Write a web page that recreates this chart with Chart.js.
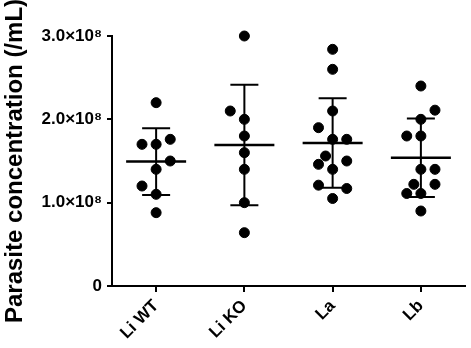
<!DOCTYPE html>
<html>
<head>
<meta charset="utf-8">
<script src="https://cdn.jsdelivr.net/npm/chart.js@4"></script>
<style>
  html, body { margin: 0; padding: 0; background: #fff; }
  #wrap { width: 471px; height: 348px; }
</style>
</head>
<body>
<div id="wrap"><canvas id="chart" width="471" height="348"></canvas></div>
<script>
// groups on the x axis
const groups = ['Li WT', 'Li KO', 'La', 'Lb'];

// parasite concentration per sample, in units of 1e8 /mL
const liWT = [2.20, 1.70, 1.70, 1.76, 1.50, 1.40, 1.20, 1.10, 0.88];
const liKO = [3.00, 2.10, 2.00, 1.80, 1.60, 1.40, 1.00, 0.64];
const la = [2.84, 2.60, 2.10, 1.90, 1.76, 1.76, 1.56, 1.46, 1.50, 1.40, 1.21, 1.17, 1.05];
const lb = [2.40, 2.11, 2.00, 1.80, 1.80, 1.40, 1.40, 1.22, 1.22, 1.11, 1.11, 0.90];

// column of each dot inside its group (scatter spread)
const liWTcol = [0, -1, 0, 1, 1, 0, -1, 0, 0];
const liKOcol = [0, -1, 0, 0, 0, 0, 0, 0];
const laCol = [0, 0, 0, -1, 0, 1, -0.5, -1, 1, 0, -1, 1, 0];
const lbCol = [0, 1, 0, -1, 0, 0, 1, -0.5, 1, -1, 0, 0];

const yTicks = [0, 1, 2, 3];

const values = [liWT, liKO, la, lb];
const cols = [liWTcol, liKOcol, laCol, lbCol];
const spread = 0.16;

var points = [];
for (var g = 0; g < values.length; g++) {
  for (var i = 0; i < values[g].length; i++) {
    points.push({ x: g + 1 + cols[g][i] * spread, y: values[g][i] * 1e8 });
  }
}

// mean and sample SD for each group
const stats = values.map(function (arr) {
  var n = arr.length;
  var mean = arr.reduce(function (a, b) { return a + b; }, 0) / n;
  var ss = arr.reduce(function (a, b) { return a + (b - mean) * (b - mean); }, 0);
  var sd = Math.sqrt(ss / (n - 1));
  return { mean: mean * 1e8, sd: sd * 1e8 };
});

const errorBars = {
  id: 'errorBars',
  afterDatasetsDraw: function (chart) {
    var ctx = chart.ctx;
    var xs = chart.scales.x, ys = chart.scales.y;
    ctx.save();
    ctx.strokeStyle = '#000';
    stats.forEach(function (s, i) {
      var cx = xs.getPixelForValue(i + 1);
      var ym = ys.getPixelForValue(s.mean);
      var yt = ys.getPixelForValue(s.mean + s.sd);
      var yb = ys.getPixelForValue(s.mean - s.sd);
      ctx.beginPath();
      ctx.lineWidth = 2.5;
      ctx.moveTo(cx - 30, ym); ctx.lineTo(cx + 30, ym);
      ctx.stroke();
      ctx.beginPath();
      ctx.lineWidth = 2;
      ctx.moveTo(cx, yt); ctx.lineTo(cx, yb);
      ctx.moveTo(cx - 14, yt); ctx.lineTo(cx + 14, yt);
      ctx.moveTo(cx - 14, yb); ctx.lineTo(cx + 14, yb);
      ctx.stroke();
    });
    ctx.restore();
  }
};

const font = 'Liberation Sans, Arial, sans-serif';

var config = {
  type: 'scatter',
  data: {
    datasets: [{
      data: points,
      backgroundColor: '#000',
      borderColor: '#000',
      pointRadius: 5,
      pointHoverRadius: 5,
      clip: false
    }]
  },
  options: {
    responsive: false,
    animation: false,
    layout: { padding: { top: 36, right: 3, left: 0, bottom: 0 } },
    plugins: {
      legend: { display: false },
      tooltip: { enabled: false }
    },
    scales: {
      x: {
        type: 'linear',
        min: 0.5,
        max: 4.5,
        afterBuildTicks: function (scale) {
          scale.ticks = groups.map(function (_, i) { return { value: i + 1 }; });
        },
        afterFit: function (scale) { scale.height = 62; },
        grid: { display: true, drawOnChartArea: false, drawTicks: true, tickLength: 6, color: '#000', lineWidth: 2 },
        border: { display: true, color: '#000', width: 2 },
        ticks: {
          autoSkip: false,
          maxRotation: 45,
          minRotation: 45,
          padding: 4,
          color: '#000',
          font: { family: font, size: 17, weight: 'bold' },
          callback: function (v) { return groups[Math.round(v) - 1]; }
        }
      },
      y: {
        min: 0,
        max: 3e8,
        afterBuildTicks: function (scale) {
          scale.ticks = yTicks.map(function (t) { return { value: t * 1e8 }; });
        },
        afterFit: function (scale) { scale.width = 112; },
        grid: { display: true, drawOnChartArea: false, drawTicks: true, tickLength: 5, color: '#000', lineWidth: 2 },
        border: { display: true, color: '#000', width: 2 },
        title: {
          display: true,
          text: 'Parasite concentration (/mL)',
          color: '#000',
          font: { family: font, size: 24, weight: 'bold' },
          padding: { top: 1, bottom: 0 }
        },
        ticks: {
          padding: 5,
          color: '#000',
          font: { family: font, size: 17, weight: 'bold' },
          callback: function (v) {
            if (v === 0) return '0';
            return (v / 1e8).toFixed(1) + '×10⁸';
          }
        }
      }
    }
  },
  plugins: [errorBars]
};

new Chart(document.getElementById('chart').getContext('2d'), config);
</script>
</body>
</html>
